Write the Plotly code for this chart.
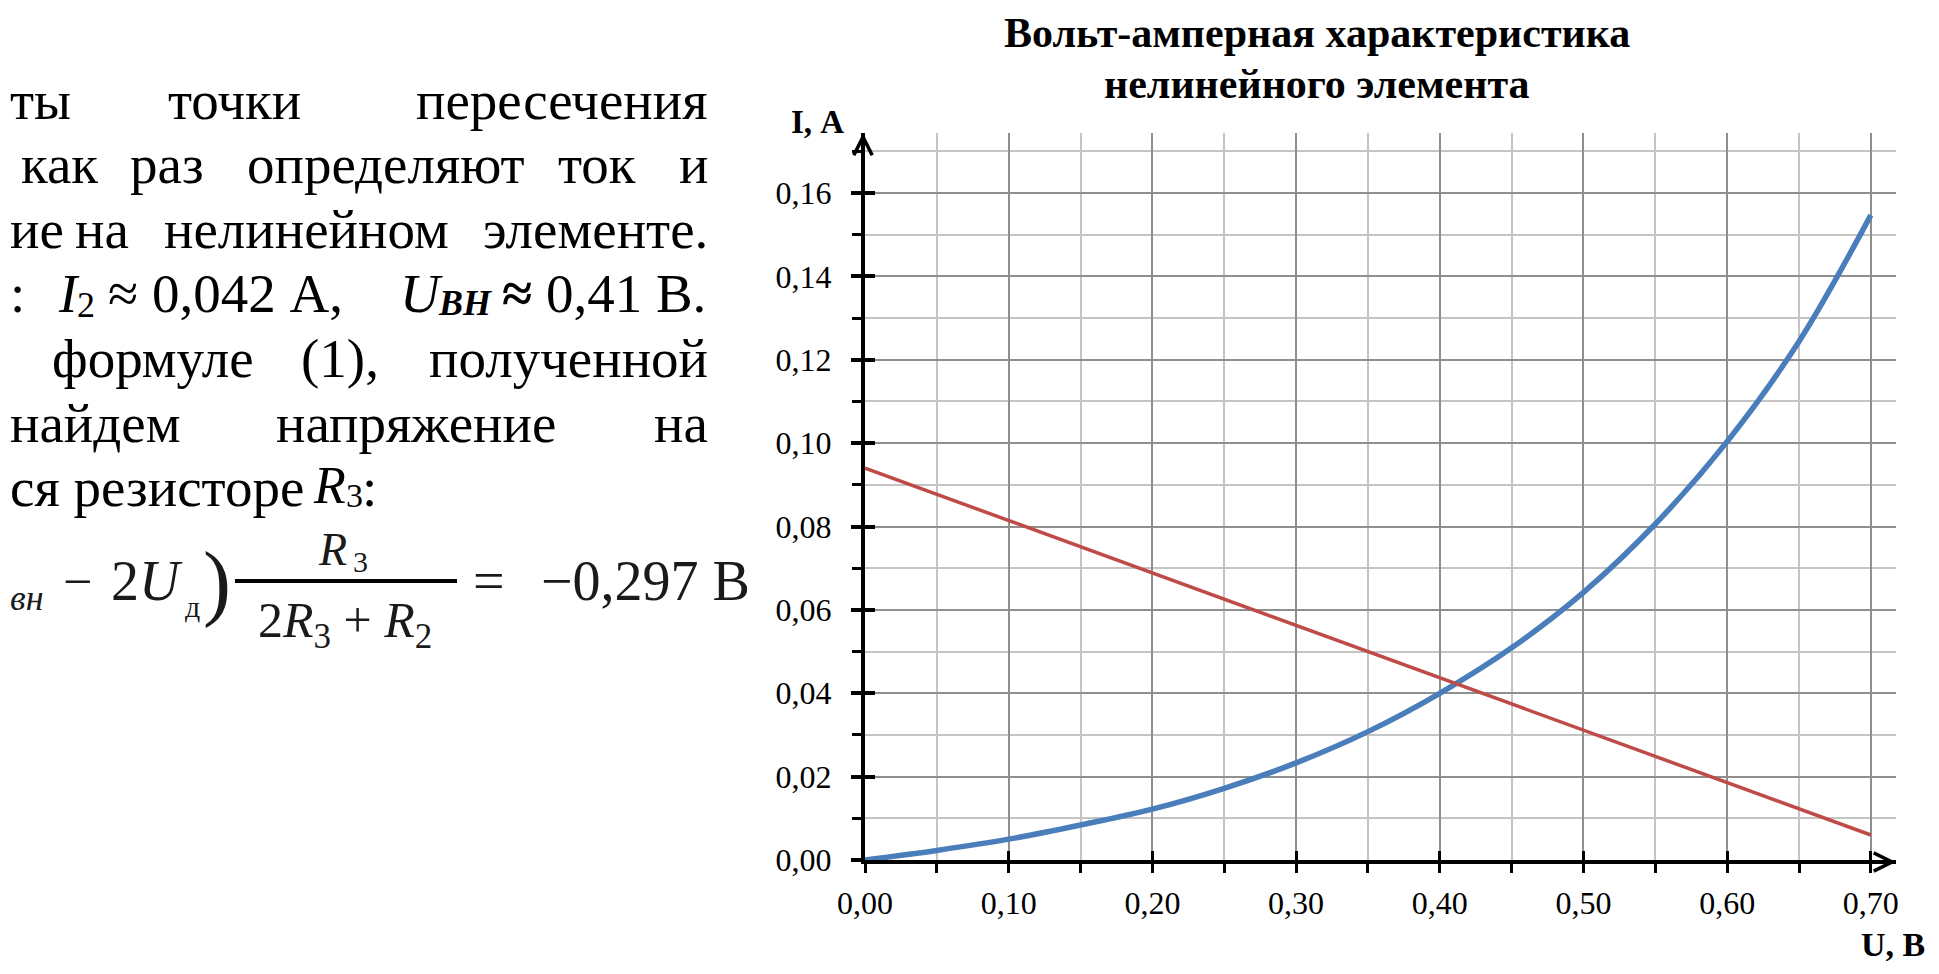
import plotly.graph_objects as go

# значения
u_values = [0.00, 0.05, 0.10, 0.15, 0.20, 0.25, 0.30, 0.35, 0.40, 0.45, 0.50, 0.55, 0.60, 0.65, 0.70]
i_element = [0.0000, 0.0023, 0.0050, 0.0084, 0.0122, 0.0172, 0.0233, 0.0308, 0.0400, 0.0509,
             0.0642, 0.0806, 0.1004, 0.1244, 0.1547]
u_load = [0.00, 0.70]
i_load = [0.094, 0.006]

title_lines = ["Вольт-амперная характеристика", "нелинейного элемента"]
y_title = "I, А"
x_title = "U, В"

# текст слева (обрезанный абзац): строки из кусков
text_lines = [
    ["ты", "точки", "пересечения"],
    ["как", "раз", "определяют", "ток", "и"],
    ["ие", "на", "нелинейном", "элементе."],
    [":", "<i>I</i>", "2", "≈ 0,042 А,", "<i>U</i>", "<b><i>ВН</i></b>", "<b>≈</b> 0,41 В."],
    ["формуле", "(1),", "полученной"],
    ["найдем", "напряжение", "на"],
    ["ся резисторе", "<i>R</i>", "3", ":"],
]

W, H = 1923, 958
L, R, T, B = 857, 35, 125, 106
X_MAX, Y_MAX = 0.7175, 0.1744

# размещение кусков текста: (x, привязка, сдвиг по y, кегль)
text_place = [
    [(0, "l", 0, 55), (234, "c", 0, 55), (710, "r", 0, 55)],
    [(19, "l", 0, 55), (167, "c", 0, 55), (386, "c", 0, 55), (597, "c", 0, 55), (710, "r", 0, 55)],
    [(0, "l", 0, 55), (102, "c", 0, 55), (306, "c", 0, 55), (710, "r", 0, 55)],
    [(0, "l", 0, 55), (56, "l", 0, 55), (75, "l", 11, 36), (106, "l", 0, 55),
     (398, "l", 0, 55), (436, "l", 9, 36), (500, "l", 0, 55)],
    [(50, "l", 0, 55), (340, "c", 0, 55), (710, "r", 0, 55)],
    [(0, "l", 0, 55), (416, "c", 0, 55), (710, "r", 0, 55)],
    [(0, "l", 0, 55), (311, "l", -2, 52), (344, "l", 8, 34), (360, "l", 0, 55)],
]


def px(x):
    return (x - 8 - L) / (W - L - R)


def py(y):
    return (H - B - (y - 8)) / (H - T - B)


SERIF = "Liberation Serif"

fig = go.Figure()
fig.add_trace(go.Scatter(
    x=u_values, y=i_element, mode="lines",
    line=dict(color="#4A7EBB", width=5.5, shape="spline", smoothing=1.0),
    hoverinfo="skip",
))
fig.add_trace(go.Scatter(
    x=u_load, y=i_load, mode="lines", xaxis="x2", yaxis="y2",
    line=dict(color="#BE4B48", width=3.5),
    hoverinfo="skip",
))

major_grid = "#8f8f8f"
minor_grid = "#c4c4c4"

fig.update_layout(
    width=W, height=H,
    margin=dict(l=L, r=R, t=T, b=B, pad=0),
    paper_bgcolor="white", plot_bgcolor="white",
    showlegend=False,
    separators=", ",
    font=dict(family=SERIF, color="black"),
    xaxis=dict(
        range=[0, X_MAX], dtick=0.1, tick0=0, tickformat=".2f",
        showgrid=True, gridcolor=major_grid, gridwidth=2,
        zeroline=False, showline=True, linecolor="black", linewidth=4,
        ticks="outside", ticklen=9, tickwidth=3, tickcolor="black",
        ticklabelstandoff=3,
        tickfont=dict(family=SERIF, size=32, color="black"),
        minor=dict(dtick=0.05, showgrid=True, gridcolor=minor_grid, gridwidth=2,
                   ticks="outside", ticklen=9, tickwidth=3, tickcolor="black"),
        fixedrange=True,
    ),
    yaxis=dict(
        range=[0, Y_MAX], dtick=0.02, tick0=0, tickformat=".2f",
        showgrid=True, gridcolor=major_grid, gridwidth=2,
        zeroline=False, showline=True, linecolor="black", linewidth=4,
        ticks="outside", ticklen=10, tickwidth=3.5, tickcolor="black",
        ticklabelstandoff=13,
        tickfont=dict(family=SERIF, size=32, color="black"),
        minor=dict(dtick=0.01, showgrid=True, gridcolor=minor_grid, gridwidth=2,
                   ticks="outside", ticklen=9, tickwidth=3, tickcolor="black"),
        fixedrange=True,
    ),
    xaxis2=dict(
        range=[0, X_MAX], dtick=0.1, tick0=0, overlaying="x", anchor="y2", side="bottom",
        showgrid=False, zeroline=False, showline=False, showticklabels=False,
        ticks="inside", ticklen=9, tickwidth=3, tickcolor="black", fixedrange=True,
    ),
    yaxis2=dict(
        range=[0, Y_MAX], dtick=0.02, tick0=0, overlaying="y", anchor="x2", side="left",
        showgrid=False, zeroline=False, showline=False, showticklabels=False,
        ticks="inside", ticklen=10, tickwidth=3.5, tickcolor="black", fixedrange=True,
    ),
)

annotations = []

# стрелки осей
annotations.append(dict(
    x=X_MAX, y=0, ax=X_MAX - 0.02, ay=0, xref="x", yref="y", axref="x", ayref="y",
    text="", showarrow=True, arrowhead=5, arrowsize=0.9, arrowwidth=4,
    arrowcolor="black", yshift=-2, standoff=0,
))
annotations.append(dict(
    x=0, y=Y_MAX, ax=0, ay=Y_MAX - 0.006, xref="x", yref="y", axref="x", ayref="y",
    text="", showarrow=True, arrowhead=5, arrowsize=0.9, arrowwidth=4,
    arrowcolor="black", xshift=-2, standoff=0,
))

# заголовок
for k, line in enumerate(title_lines):
    annotations.append(dict(
        x=px(1317), y=py(33 + 51 * k), xref="paper", yref="paper",
        text="<b>" + line + "</b>", showarrow=False, xanchor="center", yanchor="middle",
        font=dict(family=SERIF, size=42, color="black"),
    ))

annotations.append(dict(
    x=px(817), y=py(122), xref="paper", yref="paper", text="<b>" + y_title + "</b>",
    showarrow=False, xanchor="center", yanchor="middle",
    font=dict(family=SERIF, size=33, color="black"),
))
annotations.append(dict(
    x=px(1927), y=py(944), xref="paper", yref="paper", text="<b>" + x_title + "</b>",
    showarrow=False, xanchor="right", yanchor="middle",
    font=dict(family=SERIF, size=34, color="black"),
))

# абзац слева
anchors = {"l": "left", "c": "center", "r": "right"}
for n, (pieces, places) in enumerate(zip(text_lines, text_place)):
    y_line = 100 + 64.6 * n
    for piece, (xw, a, dy, size) in zip(pieces, places):
        annotations.append(dict(
            x=px(max(xw, 8)), y=py(y_line + dy), xref="paper", yref="paper", text=piece,
            showarrow=False, xanchor=anchors[a], yanchor="middle",
            font=dict(family=SERIF, size=size, color="black"),
        ))

# формула
formula_parts = [
    ("<i>вн</i>", 8, 598, 36, "left"),
    ("−", 77, 581, 52, "center"),
    ("2<i>U</i>", 147, 581, 56, "center"),
    ("д", 192, 606, 30, "center"),
    (")", 217, 582, 84, "center"),
    ("<i>R</i>", 332, 549, 46, "center"),
    ("3", 360, 561, 30, "center"),
    ("2<i>R</i><sub>3</sub> + <i>R</i><sub>2</sub>", 345, 624, 50, "center"),
    ("=", 489, 581, 56, "center"),
    ("−0,297 В", 752, 581, 56, "right"),
]
for text, xf, yf, size, xa in formula_parts:
    annotations.append(dict(
        x=px(xf), y=py(yf), xref="paper", yref="paper", text=text,
        showarrow=False, xanchor=xa, yanchor="middle",
        font=dict(family=SERIF, size=size, color="#1a1a1a"),
    ))

fig.update_layout(annotations=annotations)
fig.add_shape(type="line", xref="paper", yref="paper",
              x0=px(235), x1=px(457), y0=py(581), y1=py(581),
              line=dict(color="black", width=4))

fig.write_html("out.html")
